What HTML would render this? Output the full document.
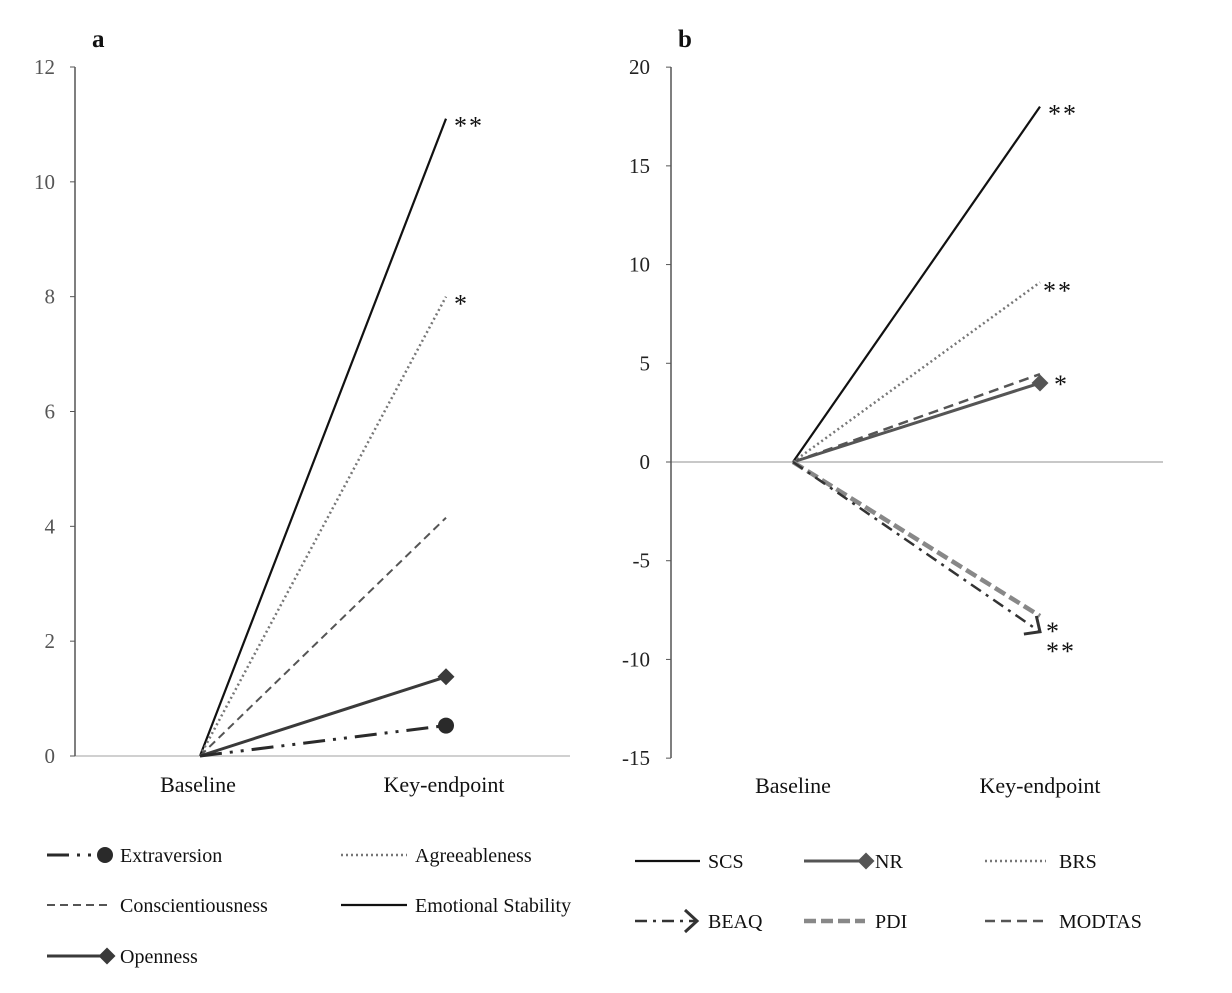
<!DOCTYPE html>
<html><head><meta charset="utf-8"><style>
body{margin:0;background:#fff;}
svg text{font-family:"Liberation Serif",serif;}
</style></head><body>
<svg id="fig" width="1232" height="988" viewBox="0 0 1232 988" xmlns="http://www.w3.org/2000/svg">
<g id="pa"></g>
<g id="pb"></g>
<g id="lg"></g>
</svg>
<script>
const NS="http://www.w3.org/2000/svg";
const catsA=["Baseline","Key-endpoint"];
const seriesNamesA=["Emotional Stability","Agreeableness","Conscientiousness","Openness","Extraversion"];
const endA=[11.1,8.0,4.15,1.38,0.53];
const sigA=["**","*","","",""];
const ticksA=[0,2,4,6,8,10,12];
const seriesNamesB=["SCS","BRS","MODTAS","NR","PDI","BEAQ"];
const endB=[18,9.1,4.45,4.0,-7.8,-8.6];
const ticksB=[-15,-10,-5,0,5,10,15,20];

function el(p,t,a,name,txt){const e=document.createElementNS(NS,t);for(const k in a)e.setAttribute(k,a[k]);


if(txt!==undefined)e.textContent=txt;p.appendChild(e);return e;}

const styleA={"Emotional Stability":{s:"#111",w:2.2,d:""},"Agreeableness":{s:"#777",w:2.5,d:"2 3"},"Conscientiousness":{s:"#555",w:2,d:"8 5"},"Openness":{s:"#3a3a3a",w:3,d:"",m:"diamond"},"Extraversion":{s:"#2a2a2a",w:3,d:"22 8 3 8 3 8",m:"circle"}};
const styleB={"SCS":{s:"#111",w:2.2,d:""},"BRS":{s:"#777",w:2.5,d:"2 3"},"MODTAS":{s:"#555",w:2.5,d:"10 6"},"NR":{s:"#555",w:3,d:"",m:"diamond"},"PDI":{s:"#888",w:4.5,d:"12 5"},"BEAQ":{s:"#333",w:2.5,d:"12 6 3 6",m:"arrow"}};

function marker(g,m,x,y,c,name,ang){
 if(m==="diamond")el(g,"rect",{x:x-6,y:y-6,width:12,height:12,fill:c,transform:`rotate(45 ${x} ${y})`},name);
 if(m==="circle")el(g,"circle",{cx:x,cy:y,r:8,fill:"#2a2a2a"},name);
 if(m==="arrow")el(g,"path",{d:`M${x-12} ${y-11} L${x} ${y} L${x-12} ${y+11}`,fill:"none",stroke:c,"stroke-width":3,transform:`rotate(${ang||0} ${x} ${y})`},name);
}
function sig(g,x,y,txt){el(g,"text",{x:x,y:y,"font-size":26,fill:"#111","letter-spacing":2},"significance",txt);}

// panel a
(function(){
 const g=document.getElementById('pa');
 const y=v=>756-(v/12)*689; const xs=[200,446];
 el(g,"line",{x1:75,y1:756,x2:570,y2:756,stroke:"#d0d0d0","stroke-width":2},"x-axis");
 el(g,"line",{x1:75,y1:67,x2:75,y2:756,stroke:"#555","stroke-width":1.5},"y-axis");
 ticksA.forEach(t=>{el(g,"line",{x1:70,y1:y(t),x2:75,y2:y(t),stroke:"#555"},"y-tick");
  el(g,"text",{x:55,y:y(t)+7,"text-anchor":"end","font-size":21,fill:"#555"},"y-tick-label",String(t));});
 catsA.forEach((c,i)=>el(g,"text",{x:xs[i]-2,y:792,"text-anchor":"middle","font-size":22,fill:"#111"},"x-tick-label",c));
 el(g,"text",{x:92,y:47,"font-size":25,"font-weight":"bold",fill:"#111"},"panel-label","a");
 seriesNamesA.forEach((n,i)=>{const s=styleA[n];
  el(g,"line",{x1:xs[0],y1:y(0),x2:xs[1],y2:y(endA[i]),stroke:s.s,"stroke-width":s.w,"stroke-dasharray":s.d},"line-"+n.toLowerCase().replace(/ /g,'-'));
  if(s.m)marker(g,s.m,xs[1],y(endA[i]),s.s,"marker-"+n.toLowerCase().replace(/ /g,'-'));
  if(sigA[i])sig(g,xs[1]+8,y(endA[i])+16,sigA[i]);
 });
})();
// panel b
(function(){
 const g=document.getElementById('pb');
 const y=v=>462-(v/35)*691; const xs=[793,1040];
 el(g,"line",{x1:671,y1:y(0),x2:1163,y2:y(0),stroke:"#c8c8c8","stroke-width":2},"zero-line");
 el(g,"line",{x1:671,y1:67,x2:671,y2:758,stroke:"#555","stroke-width":1.5},"y-axis");
 ticksB.forEach(t=>{el(g,"line",{x1:666,y1:y(t),x2:671,y2:y(t),stroke:"#555"},"y-tick");
  el(g,"text",{x:650,y:y(t)+7,"text-anchor":"end","font-size":21,fill:"#222"},"y-tick-label",String(t));});
 ["Baseline","Key-endpoint"].forEach((c,i)=>el(g,"text",{x:xs[i],y:793,"text-anchor":"middle","font-size":22,fill:"#111"},"x-tick-label",c));
 el(g,"text",{x:678,y:47,"font-size":25,"font-weight":"bold",fill:"#111"},"panel-label","b");
 seriesNamesB.forEach((n,i)=>{const s=styleB[n];
  const x2=xs[1],y2=y(endB[i]);
  el(g,"line",{x1:xs[0],y1:y(0),x2:x2,y2:y2,stroke:s.s,"stroke-width":s.w,"stroke-dasharray":s.d},"line-"+n.toLowerCase());
  const ang=Math.atan2(y2-y(0),x2-xs[0])*180/Math.PI;
  if(s.m)marker(g,s.m,x2,y2,s.s,"marker-"+n.toLowerCase(),ang);
 });
 sig(g,1048,y(endB[0])+16,"**");
 sig(g,1043,y(endB[1])+17,"**");
 sig(g,1054,y(endB[3])+10,"*");
 sig(g,1046,y(endB[4])+24,"*");
 sig(g,1046,y(endB[5])+28,"**");
})();
// legends
(function(){
 const g=document.getElementById('lg');
 function entry(x1,x2,y,s,label,tx,name){
  el(g,"line",{x1:x1,y1:y,x2:x2,y2:y,stroke:s.s,"stroke-width":s.w,"stroke-dasharray":s.d},name+"-swatch");
  if(s.m)marker(g,s.m,x2,y,s.s,name+"-marker",0);
  el(g,"text",{x:tx,y:y+7,"font-size":20,fill:"#111"},name+"-label",label);
 }
 entry(47,105,855,styleA["Extraversion"],"Extraversion",120,"legend-extraversion");
 entry(341,407,855,styleA["Agreeableness"],"Agreeableness",415,"legend-agreeableness");
 entry(47,108,905,styleA["Conscientiousness"],"Conscientiousness",120,"legend-conscientiousness");
 entry(341,407,905,styleA["Emotional Stability"],"Emotional Stability",415,"legend-emotional-stability");
 entry(47,107,956,styleA["Openness"],"Openness",120,"legend-openness");
 entry(635,700,861,styleB["SCS"],"SCS",708,"legend-scs");
 entry(804,866,861,styleB["NR"],"NR",875,"legend-nr");
 entry(985,1046,861,styleB["BRS"],"BRS",1059,"legend-brs");
 entry(635,697,921,styleB["BEAQ"],"BEAQ",708,"legend-beaq");
 entry(804,865,921,styleB["PDI"],"PDI",875,"legend-pdi");
 entry(985,1046,921,styleB["MODTAS"],"MODTAS",1059,"legend-modtas");
})();
</script>
</body></html>
